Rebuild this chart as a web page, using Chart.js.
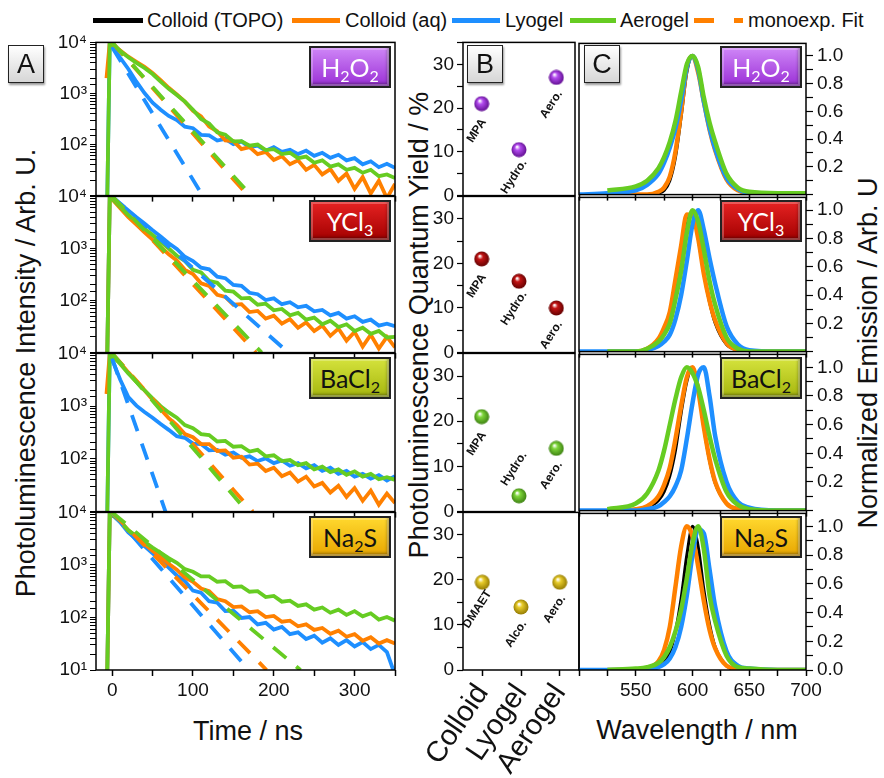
<!DOCTYPE html>
<html lang="en">
<head>
<title>PL decay, quantum yield and emission</title>
<script src="https://cdn.jsdelivr.net/npm/chart.js"></script>
<meta charset="utf-8"/>
<style>
  body { margin: 0; background: #fff; }
  #figure { position: relative; width: 884px; height: 778px; overflow: hidden;
            font-family: "Liberation Sans", Arial, sans-serif; color: #111; }
  #figure canvas { position: absolute; }
  .ln { position: absolute; top: 18px; height: 5px; }
  .lt { position: absolute; top: 8px; font-size: 20px; line-height: 24px; white-space: nowrap; }
  .title { position: absolute; font-size: 27px; white-space: nowrap; transform: translate(-50%, -50%); }
  .vtitle { transform: translate(-50%, -50%) rotate(-90deg); }
  .letter { position: absolute; width: 34px; height: 36px; border: 1.5px solid #222;
            background: linear-gradient(#ffffff, #d6d6d6); box-shadow: 1px 2px 2px #999;
            font-size: 27px; line-height: 36px; text-align: center; }
  .badge { position: absolute; width: 78px; height: 38px; border: 2px solid #222;
           box-shadow: inset 0 0 0 2px rgba(255,255,255,0.25), inset -2px -3px 3px rgba(0,0,0,0.35);
           font-family: Lato, "Open Sans", sans-serif; font-size: 25px; line-height: 38px; text-align: center; }
  .badge sub { font-size: 16px; vertical-align: -5px; line-height: 0; }
</style>
</head>
<body>
<div id="figure">
  <span class="ln" style="left:93px;width:50px;background:#000"></span>
  <span class="lt" style="left:147px">Colloid (TOPO)</span>
  <span class="ln" style="left:292px;width:48px;background:#ff8000"></span>
  <span class="lt" style="left:345px">Colloid (aq)</span>
  <span class="ln" style="left:452px;width:48px;background:#1e8fff"></span>
  <span class="lt" style="left:505px">Lyogel</span>
  <span class="ln" style="left:570px;width:46px;background:#66cc22"></span>
  <span class="lt" style="left:620px">Aerogel</span>
  <span class="ln" style="left:694px;width:20px;background:#ff8000"></span>
  <span class="ln" style="left:734px;width:9px;background:#ff8000"></span>
  <span class="lt" style="left:748px">monoexp. Fit</span>

  <div class="title vtitle" style="left:26px;top:373px">Photoluminescence Intensity / Arb. U.</div>
  <div class="title vtitle" style="left:419px;top:325px">Photoluminescence Quantum Yield / %</div>
  <div class="title vtitle" style="left:868px;top:353px">Normalized Emission / Arb. U</div>
  <div class="title" style="left:248px;top:731px">Time / ns</div>
  <div class="title" style="left:697px;top:730px">Wavelength / nm</div>
</div>

<script>
// ---- panel A: time resolved PL, intensity on a log axis ----
var decayTime = [-20,-7,-3,10,20,30,40,50,60,70,80,90,100,110,120,130,140,150,160,170,180,
                 190,200,210,220,230,240,250,260,270,280,290,300,310,320,330,340,350];

var lyoH2O2  = [1,1,10000, 5000,3020,1700,1020,661,479,363,302,224,209, 155,151,120,129,102,115,89,95,76,89,
                72,79,65,76,60,69,55,63,49,54, 41,47,36,42,35];
var aqH2O2   = [null,2000,10000, 6920,5250,4170,3310,2510,1820,1290,955,692,457, 355,224,182,120,117,81,89,65,72,50,
                59,41,49,32,40,26,33,19.5,27,13.5, 23,11,19.5,8.9,17];
var aeroH2O2 = [1,1,10000, 6760,5130,3980,3160,2400,1700,1230,933,692,479, 316,257,174,155,115,117,95,100,78,81,
                65,69,54,58,44,49,37,41,32,35, 28,32,24,26,22];

var lyoYCl3  = [1,1,10000, 7240,5370,3980,3020,2240,1700,1260,977,692,575, 427,398,288,269,200,191,141,132,102,110,
                85,93,74,79,62,66,52,58,45,50, 39,43,33,36,32];
var aqYCl3   = [1,1,10000, 5890,3980,2880,2040,1480,1070,776,589,389,324, 214,191,129,117,83,85,60,63,45,51,
                36,44,30,38,26,33,21,29,17,25, 13,22,12,20,12.6];
var aeroYCl3 = [1,1,10000, 6310,4370,3240,2400,1820,1350,1000,724,575,389, 347,240,219,155,148,110,112,83,87,65,
                69,52,58,43,47,35,41,31,35,26, 30,23,26,19.5,20];

var lyoBaCl2  = [1,1,10000, 3160,1480,1020,776,603,457,355,269,251,195, 191,145,148,120,132,105,112,91,102,83,
                 93,74,83,66,76,59,68,52,59,46, 52,42,49,39,47];
var aqBaCl2   = [null,1700,10000, 6610,4370,2950,2000,1320,871,589,437,295,257, 191,191,141,145,105,110,78,81,59,68,
                 47,55,37,46,30,35,23,31,19,28, 16,25,13.5,22,14.5];
var aeroBaCl2 = [1,1,10000, 6310,4170,2880,2000,1410,1000,759,603,437,380, 295,282,214,219,170,174,138,148,112,117,
                 91,95,76,83,63,71,56,63,50,58, 46,52,41,45,40];

var lyoNa2S  = [1,1,10000, 6460,4170,3090,2290,1660,1230,891,631,490,324, 295,204,191,132,135,98,102,74,79,59,
                66,48,52,39,45,33,40,30,37,28, 34,25,30,22,8];
var aqNa2S   = [1,1,10000, 6760,4570,3390,2510,1860,1410,1050,813,575,479, 355,316,224,204,158,162,126,132,102,107,
                83,87,68,74,58,63,49,56,43,48, 36,42,32,37,32];
var aeroNa2S = [1,1,10000, 6760,4570,3550,2750,2140,1700,1350,1100,832,741, 603,603,479,490,380,389,309,316,245,257,
                200,209,166,178,141,155,123,141,112,132, 105,120,91,102,87];

// monoexponential fits: [time, intensity] at both ends of the straight line
var fitLyoH2O2  = [[0,8000],[112,10]];
var fitAqH2O2   = [[0,10000],[168,10]];
var fitAeroH2O2 = [[0,10000],[172,10]];
var fitLyoYCl3  = [[0,10000],[218,10]];
var fitAqYCl3   = [[0,10000],[178,10]];
var fitAeroYCl3 = [[0,10000],[185,10]];
var fitLyoBaCl2  = [[0,8000],[66,10]];
var fitAqBaCl2   = [[0,10000],[174,10]];
var fitAeroBaCl2 = [[0,10000],[167,10]];
var fitLyoNa2S  = [[0,10000],[169,10]];
var fitAqNa2S   = [[0,10000],[191,10]];
var fitAeroNa2S = [[0,10000],[233,10]];

// ---- panel B: quantum yield in % ----
var qyCategories = ['Colloid', 'Lyogel', 'Aerogel'];
var qyH2O2  = [21, 10.5, 27];
var qyYCl3  = [21, 16, 10];
var qyBaCl2 = [21, 3.5, 14];
var qyNa2S  = [19.5, 14, 19.5];
var tagsH2O2  = ['MPA', 'Hydro.', 'Aero.'];
var tagsYCl3  = ['MPA', 'Hydro.', 'Aero.'];
var tagsBaCl2 = ['MPA', 'Hydro.', 'Aero.'];
var tagsNa2S  = ['DMAET', 'Alco.', 'Aero.'];

// ---- panel C: normalized emission ----
var emWave = [500,525,550,560,570,575,580,585,590,595,600,605,610,615,620,630,640,650,675,700];

var topoEmH2O2 = [0,0,0,0,0.01,0.03,0.1,0.27,0.56,0.88,1.0,0.9,0.68,0.48,0.32,0.11,0.03,0.01,0,0];
var aqEmH2O2   = [null,0,0,0,0.02,0.05,0.13,0.31,0.6,0.92,1.0,0.88,0.67,0.47,0.32,0.11,0.03,0.01,0,0];
var lyoEmH2O2  = [0,0.01,0.03,0.07,0.15,0.23,0.34,0.48,0.68,0.92,1.0,0.9,0.67,0.48,0.33,0.12,0.04,0.01,0,0];
var aeroEmH2O2 = [null,0.03,0.06,0.1,0.19,0.27,0.38,0.53,0.74,0.94,1.0,0.92,0.7,0.52,0.38,0.15,0.05,0.02,0.01,0.01];

var topoEmYCl3 = [0,0,0,0.01,0.07,0.15,0.26,0.48,0.73,0.94,0.98,0.8,0.55,0.35,0.2,0.05,0.01,0,0,0];
var aqEmYCl3   = [null,0,0,0.02,0.09,0.17,0.28,0.51,0.75,0.97,0.96,0.8,0.55,0.36,0.22,0.06,0.01,0,0,0];
var lyoEmYCl3  = [0,0,0,0.01,0.04,0.07,0.12,0.23,0.4,0.64,0.9,1.0,0.86,0.66,0.48,0.18,0.05,0.01,0,0];
var aeroEmYCl3 = [null,0,0,0.02,0.07,0.12,0.2,0.37,0.57,0.84,1.0,0.92,0.72,0.5,0.33,0.1,0.02,0,0,0];

var topoEmBaCl2 = [0,0,0,0.02,0.07,0.13,0.24,0.42,0.68,0.9,1.0,0.86,0.58,0.35,0.19,0.05,0.01,0,0,0];
var aqEmBaCl2   = [null,0,0.01,0.03,0.1,0.18,0.3,0.5,0.73,0.93,1.0,0.84,0.58,0.36,0.2,0.05,0.01,0,0,0];
var lyoEmBaCl2  = [0,0,0,0.01,0.03,0.06,0.1,0.17,0.28,0.5,0.75,0.95,1.0,0.8,0.52,0.2,0.06,0.02,0,0];
var aeroEmBaCl2 = [null,0.01,0.05,0.12,0.28,0.42,0.6,0.78,0.93,1.0,0.96,0.86,0.7,0.52,0.36,0.13,0.04,0.01,0,0];

var topoEmNa2S = [0,0,0,0,0.02,0.05,0.12,0.27,0.5,0.8,1.0,0.86,0.56,0.32,0.16,0.03,0,0,0,0];
var aqEmNa2S   = [null,0,0,0.01,0.06,0.14,0.3,0.58,0.86,1.0,0.93,0.72,0.48,0.28,0.15,0.03,0.01,0,0,0];
var lyoEmNa2S  = [0,0,0,0.01,0.02,0.04,0.08,0.16,0.3,0.52,0.8,0.98,0.95,0.7,0.44,0.13,0.03,0.01,0,0];
var aeroEmNa2S = [null,0,0.01,0.02,0.05,0.09,0.16,0.27,0.42,0.64,0.88,1.0,0.84,0.52,0.34,0.1,0.02,0.01,0,0];

var treatments = ['H2O2', 'YCl3', 'BaCl2', 'Na2S'];

// ---- layout and style ----
const BLACK = '#000000', ORANGE = '#ff8000', BLUE = '#1e8fff', GREEN = '#66cc22';
const rowTop = [42, 196, 353, 512];
const rowBottom = [196, 353, 512, 670];
const badgeLook = {
  H2O2:  {html: 'H<sub>2</sub>O<sub>2</sub>', bg: 'linear-gradient(#cf86f7, #9a2fd6)', fg: '#fff'},
  YCl3:  {html: 'YCl<sub>3</sub>', bg: 'linear-gradient(#e52222, #a30000)', fg: '#fff'},
  BaCl2: {html: 'BaCl<sub>2</sub>', bg: 'linear-gradient(#d4e23c, #a6b60e)', fg: '#111'},
  Na2S:  {html: 'Na<sub>2</sub>S', bg: 'linear-gradient(#ffd82e, #e8a600)', fg: '#111'}
};
const qyColor = [['#b44cf0', '#5d0c8c'], ['#c41414', '#5e0000'], ['#7ed63a', '#3a7d10'], ['#e8cc2a', '#8f7600']];
const tagSide = [[1, 1, 1], [1, 1, 1], [1, -1, 1], [1, 1, 1]];   // 1 = tag below point, -1 = above
const SUP = {1: '\u00b9', 2: '\u00b2', 3: '\u00b3', 4: '\u2074'};

Chart.defaults.font.family = '"Liberation Sans", Arial, sans-serif';
Chart.defaults.font.size = 19;
Chart.defaults.color = '#111';
Chart.defaults.animation = false;
Chart.defaults.plugins.legend.display = false;
Chart.defaults.plugins.tooltip.enabled = false;

const frame = {
  id: 'frame',
  afterDraw(chart) {
    const a = chart.chartArea, ctx = chart.ctx;
    ctx.save();
    ctx.strokeStyle = '#000';
    ctx.lineWidth = 1.5;
    ctx.strokeRect(a.left, a.top, a.right - a.left, a.bottom - a.top);
    ctx.restore();
  }
};

const pointTags = {
  id: 'pointTags',
  afterDatasetsDraw(chart, args, opts) {
    const ctx = chart.ctx;
    chart.getDatasetMeta(0).data.forEach((pt, i) => {
      ctx.save();
      ctx.translate(pt.x - 5, pt.y + opts.sides[i] * 27);
      ctx.rotate(-57 * Math.PI / 180);
      ctx.font = 'bold 12px "Liberation Sans", Arial, sans-serif';
      ctx.fillStyle = '#111';
      ctx.textAlign = 'center';
      ctx.textBaseline = 'middle';
      ctx.fillText(opts.texts[i], 0, 0);
      ctx.restore();
    });
  }
};

function sphere(light, dark) {
  const c = document.createElement('canvas');
  c.width = c.height = 16;
  const g = c.getContext('2d');
  const grad = g.createRadialGradient(6, 5, 0.5, 8, 8, 8);
  grad.addColorStop(0, '#ffffff');
  grad.addColorStop(0.3, light);
  grad.addColorStop(1, dark);
  g.fillStyle = grad;
  g.beginPath();
  g.arc(8, 8, 7.5, 0, Math.PI * 2);
  g.fill();
  return c;
}

function makeCanvas(box, pad) {
  const c = document.createElement('canvas');
  c.width = box.w + pad.l + pad.r;
  c.height = box.h + pad.t + pad.b;
  c.style.left = (box.x - pad.l) + 'px';
  c.style.top = (box.y - pad.t) + 'px';
  c.style.width = c.width + 'px';
  c.style.height = c.height + 'px';
  document.getElementById('figure').appendChild(c);
  return c;
}

function addBox(cls, html, left, top, look) {
  const d = document.createElement('div');
  d.className = cls;
  d.innerHTML = html;
  d.style.left = left + 'px';
  d.style.top = top + 'px';
  if (look) { d.style.background = look.bg; d.style.color = look.fg; }
  document.getElementById('figure').appendChild(d);
}

function tickGrid(width) {
  return {drawOnChartArea: false, drawTicks: true, tickLength: 6, color: '#000', tickWidth: width || 1.2};
}

function pairs(xs, ys) {
  return xs.map((x, i) => ({x: x, y: ys[i]}));
}

function decayChart(r, lyo, aq, aero, fits) {
  const last = r === 3;
  const box = {x: 96, y: rowTop[r], w: 299, h: rowBottom[r] - rowTop[r]};
  const pad = {l: 90, r: 6, t: 14, b: last ? 42 : 14};
  const fitSet = (f, color) => ({data: f.map(p => ({x: p[0], y: p[1]})), borderColor: color,
    borderWidth: 3.8, borderDash: [17, 13], pointRadius: 0});
  const dataSet = (v, color) => ({data: pairs(decayTime, v), borderColor: color, borderWidth: 3.8,
    pointRadius: 0, tension: 0});
  new Chart(makeCanvas(box, pad), {
    type: 'line',
    data: {datasets: [fitSet(fits[2], GREEN), fitSet(fits[1], ORANGE), fitSet(fits[0], BLUE),
                      dataSet(aero, GREEN), dataSet(aq, ORANGE), dataSet(lyo, BLUE)]},
    options: {
      responsive: false,
      layout: {padding: {top: pad.t, right: pad.r, left: 0, bottom: 0}},
      scales: {
        x: {type: 'linear', min: -20, max: 350, border: {display: false}, grid: tickGrid(1.5),
            afterFit: s => { s.height = pad.b; },
            ticks: {stepSize: 50, includeBounds: false, autoSkip: false, maxRotation: 0, display: last,
                    callback: v => (v % 100 === 0 ? String(v) : '')}},
        y: {type: 'logarithmic', min: 10, max: 10000, border: {display: false},
            grid: tickGrid(1),
            afterFit: s => { s.width = pad.l; },
            ticks: {autoSkip: false, padding: 3,
                    callback: v => {
                      const e = Math.round(Math.log10(v));
                      if (Math.abs(Math.log10(v) - e) > 1e-6) return '';
                      if (e === 1 && !last) return '';
                      return '10' + SUP[e];
                    }}}
      }
    },
    plugins: [frame]
  });
}

function yieldChart(r, values, tags) {
  const last = r === 3;
  const box = {x: 463, y: rowTop[r], w: 116, h: rowBottom[r] - rowTop[r]};
  const pad = {l: 50, r: last ? 34 : 4, t: 14, b: last ? 108 : 14};
  new Chart(makeCanvas(box, pad), {
    type: 'line',
    data: {labels: qyCategories,
           datasets: [{data: values, showLine: false, pointRadius: 7,
                       pointStyle: sphere(qyColor[r][0], qyColor[r][1])}]},
    options: {
      responsive: false,
      layout: {padding: {top: pad.t, right: pad.r, left: 0, bottom: 0}},
      scales: {
        x: {type: 'category', offset: true, border: {display: false},
            grid: {drawOnChartArea: false, drawTicks: last, tickLength: 6, color: '#000', tickWidth: 1.5},
            afterFit: s => { s.height = pad.b; },
            ticks: {display: last, autoSkip: false, minRotation: 56, maxRotation: 56, padding: 2,
                    font: {size: 29}}},
        y: {min: 0, max: 35, border: {display: false}, grid: tickGrid(1.2),
            afterFit: s => { s.width = pad.l; },
            ticks: {stepSize: 5, autoSkip: false, callback: v => (v % 10 === 0 ? String(v) : '')}}
      },
      plugins: {pointTags: {texts: tags, sides: tagSide[r]}}
    },
    plugins: [frame, pointTags]
  });
}

function emissionChart(r, topo, aq, lyo, aero) {
  const last = r === 3;
  const box = {x: 579, y: rowTop[r], w: 227, h: rowBottom[r] - rowTop[r]};
  const pad = {l: 4, r: 62, t: 14, b: last ? 42 : 14};
  const set = (v, color, w) => ({data: pairs(emWave, v), borderColor: color, borderWidth: w,
    pointRadius: 0, cubicInterpolationMode: 'monotone'});
  new Chart(makeCanvas(box, pad), {
    type: 'line',
    data: {datasets: [set(aero, GREEN, 4.5), set(lyo, BLUE, 4.5), set(aq, ORANGE, 4.5), set(topo, BLACK, 3)]},
    options: {
      responsive: false,
      layout: {padding: {top: pad.t, left: pad.l, right: 0, bottom: 0}},
      scales: {
        x: {type: 'linear', min: 500, max: 700, border: {display: false}, grid: tickGrid(1.5),
            afterFit: s => { s.height = pad.b; },
            ticks: {stepSize: 25, includeBounds: false, autoSkip: false, maxRotation: 0, display: last,
                    callback: v => (v % 50 === 0 && v > 500 ? String(v) : '')}},
        y: {position: 'right', min: 0, max: 1.09, border: {display: false},
            grid: {drawOnChartArea: false, tickLength: 7, color: '#000', tickWidth: 1.2},
            afterFit: s => { s.width = pad.r; },
            ticks: {stepSize: 0.1, includeBounds: false, autoSkip: false, padding: 4,
                    callback: v => {
                      const k = Math.round(v * 10);
                      if (k % 2 !== 0) return '';
                      if (k === 0 && !last) return '';
                      return v.toFixed(1);
                    }}}
      }
    },
    plugins: [frame]
  });
}

decayChart(0, lyoH2O2, aqH2O2, aeroH2O2, [fitLyoH2O2, fitAqH2O2, fitAeroH2O2]);
decayChart(1, lyoYCl3, aqYCl3, aeroYCl3, [fitLyoYCl3, fitAqYCl3, fitAeroYCl3]);
decayChart(2, lyoBaCl2, aqBaCl2, aeroBaCl2, [fitLyoBaCl2, fitAqBaCl2, fitAeroBaCl2]);
decayChart(3, lyoNa2S, aqNa2S, aeroNa2S, [fitLyoNa2S, fitAqNa2S, fitAeroNa2S]);

yieldChart(0, qyH2O2, tagsH2O2);
yieldChart(1, qyYCl3, tagsYCl3);
yieldChart(2, qyBaCl2, tagsBaCl2);
yieldChart(3, qyNa2S, tagsNa2S);

emissionChart(0, topoEmH2O2, aqEmH2O2, lyoEmH2O2, aeroEmH2O2);
emissionChart(1, topoEmYCl3, aqEmYCl3, lyoEmYCl3, aeroEmYCl3);
emissionChart(2, topoEmBaCl2, aqEmBaCl2, lyoEmBaCl2, aeroEmBaCl2);
emissionChart(3, topoEmNa2S, aqEmNa2S, lyoEmNa2S, aeroEmNa2S);

addBox('letter', 'A', 8, 45);
addBox('letter', 'B', 467, 45);
addBox('letter', 'C', 584, 45);
treatments.forEach((t, r) => {
  addBox('badge', badgeLook[t].html, 309, rowTop[r] + 4, badgeLook[t]);
  addBox('badge', badgeLook[t].html, 720, rowTop[r] + 4, badgeLook[t]);
});
</script>
</body>
</html>
